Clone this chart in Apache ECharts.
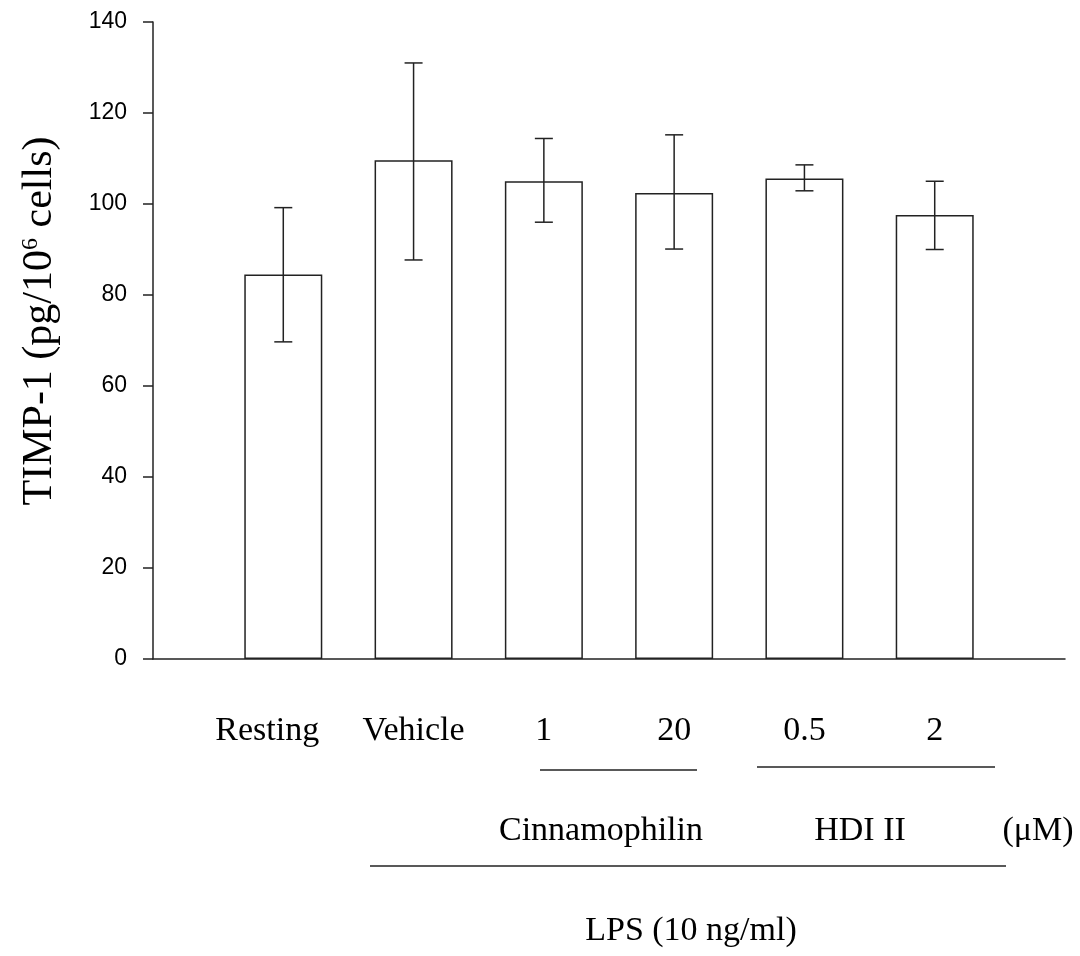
<!DOCTYPE html>
<html><head><meta charset="utf-8">
<script src="https://cdn.jsdelivr.net/npm/echarts@6/dist/echarts.min.js"></script>
<style>html,body{margin:0;padding:0;background:#fff}#c{width:1080px;height:956px}</style>
</head><body><div id="c"></div>
<script>
const categories = ['Resting', 'Vehicle', '1', '20', '0.5', '2'];
const positions = [1, 2, 3, 4, 5, 6];
const means = [84.5, 109.6, 105.0, 102.4, 105.6, 97.6];
const errLow = [69.7, 87.7, 96.0, 90.1, 102.9, 90.0];
const errHigh = [99.2, 131.0, 114.4, 115.2, 108.6, 105.0];
const yTicks = [0, 20, 40, 60, 80, 100, 120, 140];

const chart = echarts.init(document.getElementById('c'), null, {renderer: 'canvas'});
const ink = '#222';
const serif = '"Liberation Serif", "Times New Roman", serif';
const fs = 34;

const barData = positions.map((p, i) => [p, means[i]]);
const errData = positions.map((p, i) => [p, errLow[i], errHigh[i]]);

chart.setOption({
  animation: false,
  backgroundColor: '#fff',
  grid: {left: 153, top: 22, right: 15, bottom: 297, containLabel: false},
  xAxis: {
    type: 'value', min: 0, max: 7,
    splitLine: {show: false},
    axisLine: {show: true, lineStyle: {color: ink, width: 1.5}},
    axisTick: {show: true, inside: true, length: 3, customValues: positions, lineStyle: {color: ink, width: 1}},
    axisLabel: {
      show: true, customValues: positions, margin: 55,
      fontFamily: serif, fontSize: fs, color: '#000',
      formatter: v => {
        const i = positions.indexOf(v);
        if (i < 0) return '';
        return i === 0 ? '{r|' + categories[i] + '}' : categories[i];
      },
      rich: {r: {fontFamily: serif, fontSize: fs, color: '#000', padding: [0, 32, 0, 0]}}
    }
  },
  yAxis: {
    type: 'value', min: yTicks[0], max: yTicks[yTicks.length - 1], interval: 20,
    splitLine: {show: false},
    axisLine: {show: true, lineStyle: {color: ink, width: 1.5}},
    axisTick: {show: true, inside: false, length: 10, lineStyle: {color: ink, width: 1.5}},
    axisLabel: {margin: 26, fontFamily: '"Liberation Sans", Arial, sans-serif', fontSize: 23, color: '#000'}
  },
  series: [
    {
      type: 'bar', data: barData, barWidth: 78,
      itemStyle: {color: '#fff', borderColor: ink, borderWidth: 1.5},
      z: 2
    },
    {
      type: 'custom', data: errData, z: 3,
      renderItem: (params, api) => {
        const x = api.value(0);
        const lo = api.coord([x, api.value(1)]);
        const hi = api.coord([x, api.value(2)]);
        const w = 9;
        const st = {stroke: ink, lineWidth: 1.5};
        return {type: 'group', children: [
          {type: 'line', shape: {x1: lo[0], y1: lo[1], x2: hi[0], y2: hi[1]}, style: st},
          {type: 'line', shape: {x1: lo[0] - w, y1: lo[1], x2: lo[0] + w, y2: lo[1]}, style: st},
          {type: 'line', shape: {x1: hi[0] - w, y1: hi[1], x2: hi[0] + w, y2: hi[1]}, style: st}
        ]};
      }
    }
  ],
  graphic: [
    {type: 'text', x: 40, y: 321, rotation: Math.PI / 2,
      style: {text: 'TIMP-1 (pg/10{s|6} cells)', fontFamily: serif, fontSize: 42, fill: '#000',
        align: 'center', verticalAlign: 'middle',
        rich: {s: {fontFamily: serif, fontSize: 24, fill: '#000', verticalAlign: 'top', padding: [0, 0, 18, 0]}}}},
    {type: 'line', shape: {x1: 540, y1: 770, x2: 697, y2: 770}, style: {stroke: ink, lineWidth: 1.5}},
    {type: 'line', shape: {x1: 757, y1: 767, x2: 995, y2: 767}, style: {stroke: ink, lineWidth: 1.5}},
    {type: 'line', shape: {x1: 370, y1: 866, x2: 1006, y2: 866}, style: {stroke: ink, lineWidth: 1.5}},
    {type: 'text', x: 601, y: 831, style: {text: 'Cinnamophilin', fontFamily: serif, fontSize: fs, fill: '#000', align: 'center', verticalAlign: 'middle'}},
    {type: 'text', x: 860, y: 831, style: {text: 'HDI II', fontFamily: serif, fontSize: fs, fill: '#000', align: 'center', verticalAlign: 'middle'}},
    {type: 'text', x: 1038, y: 831, style: {text: '(μM)', fontFamily: serif, fontSize: fs, fill: '#000', align: 'center', verticalAlign: 'middle'}},
    {type: 'text', x: 691, y: 931, style: {text: 'LPS (10 ng/ml)', fontFamily: serif, fontSize: fs, fill: '#000', align: 'center', verticalAlign: 'middle'}}
  ]
});
</script>
</body></html>
